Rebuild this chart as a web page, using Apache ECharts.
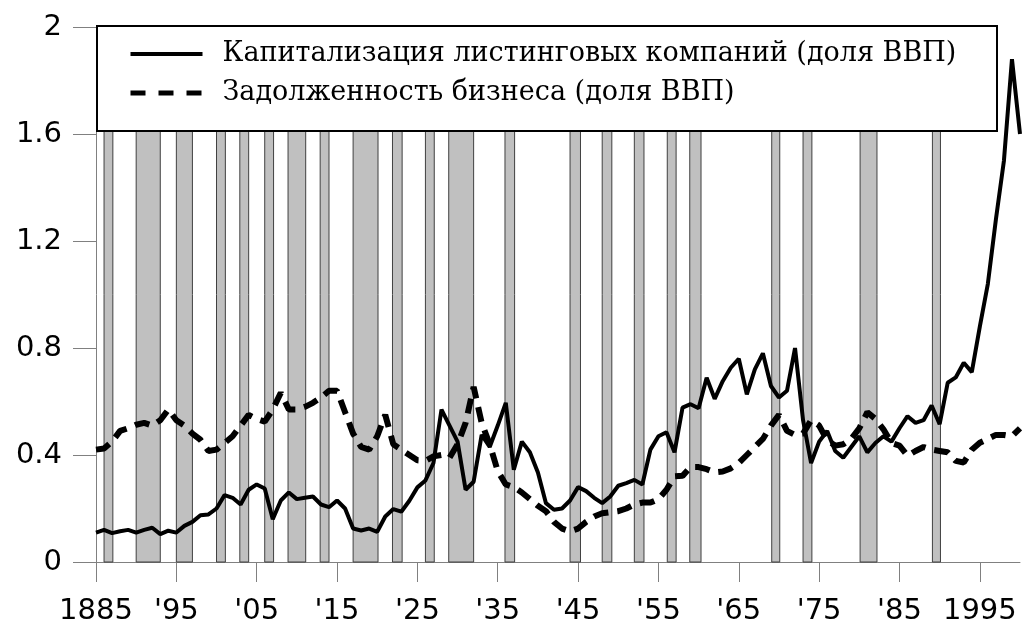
<!DOCTYPE html>
<html><head><meta charset="utf-8">
<script src="https://cdn.jsdelivr.net/npm/echarts@6/dist/echarts.min.js"></script>
<style>html,body{margin:0;padding:0;background:#fff}#c{width:1022px;height:626px}</style>
</head><body><div id="c"></div>
<script>
const firstYear = 1885;
// Market capitalization of listed companies (share of GDP), 1885..2000
const capitalization = [
  0.11, 0.12, 0.108, 0.115, 0.12, 0.11, 0.12, 0.128, 0.104, 0.117,
  0.11, 0.135, 0.15, 0.175, 0.178, 0.2, 0.25, 0.24, 0.215, 0.27,
  0.29, 0.275, 0.16, 0.23, 0.26, 0.235, 0.24, 0.245, 0.215, 0.205,
  0.23, 0.2, 0.125, 0.118, 0.125, 0.113, 0.17, 0.198, 0.188, 0.229,
  0.279, 0.305, 0.37, 0.57, 0.51, 0.45, 0.27, 0.30, 0.475, 0.43,
  0.51, 0.595, 0.345, 0.45, 0.41, 0.335, 0.22, 0.195, 0.2, 0.23,
  0.28, 0.265, 0.24, 0.22, 0.245, 0.285, 0.295, 0.307, 0.29, 0.42,
  0.47, 0.485, 0.41, 0.577, 0.59, 0.575, 0.689, 0.61, 0.676, 0.726,
  0.76, 0.627, 0.72, 0.78, 0.658, 0.615, 0.64, 0.8, 0.53, 0.37,
  0.45, 0.49, 0.415, 0.39, 0.43, 0.47, 0.41, 0.445, 0.47, 0.45,
  0.5, 0.545, 0.52, 0.53, 0.585, 0.515, 0.67, 0.69, 0.745, 0.71,
  0.88, 1.04, 1.28, 1.5, 1.88, 1.6
];
// Business debt (share of GDP), 1885..2000
const businessDebt = [
  0.42, 0.424, 0.45, 0.49, 0.50, 0.513, 0.52, 0.51, 0.53, 0.57,
  0.53, 0.51, 0.48, 0.457, 0.415, 0.42, 0.445, 0.47, 0.51, 0.55,
  0.535, 0.525, 0.57, 0.633, 0.57, 0.57, 0.58, 0.595, 0.615, 0.64,
  0.64, 0.56, 0.48, 0.43, 0.42, 0.47, 0.55, 0.44, 0.42, 0.40,
  0.38, 0.378, 0.395, 0.40, 0.39, 0.44, 0.52, 0.655, 0.52, 0.44,
  0.34, 0.29, 0.28, 0.26, 0.235, 0.21, 0.19, 0.15, 0.125, 0.115,
  0.125, 0.15, 0.17, 0.182, 0.186, 0.19, 0.2, 0.215, 0.222, 0.222,
  0.235, 0.27, 0.32, 0.322, 0.355, 0.355, 0.347, 0.335, 0.338, 0.35,
  0.37, 0.40, 0.43, 0.46, 0.51, 0.55, 0.49, 0.475, 0.48, 0.53,
  0.51, 0.455, 0.435, 0.44, 0.46, 0.5, 0.56, 0.535, 0.496, 0.445,
  0.435, 0.397, 0.415, 0.43, 0.42, 0.415, 0.41, 0.378, 0.372, 0.42,
  0.446, 0.46, 0.475, 0.475, 0.47, 0.50
];
// Recession periods (shaded bars)
const recessionStart = [1886.0, 1890.0, 1895.0, 1900.0, 1902.9, 1906.0, 1908.9, 1912.9, 1917.0, 1921.9, 1926.0,
  1928.9, 1935.9, 1944.0, 1948.0, 1952.0, 1956.1, 1958.9, 1969.1, 1973.0, 1980.1, 1989.1];
const recessionEnd = [1887.1, 1893.0, 1897.0, 1901.1, 1904.0, 1907.1, 1911.1, 1914.0, 1920.1, 1923.1, 1927.1,
  1932.0, 1937.1, 1945.3, 1949.2, 1953.2, 1957.2, 1960.3, 1970.1, 1974.1, 1982.2, 1990.1];
const tickYears = [1885, 1895, 1905, 1915, 1925, 1935, 1945, 1955, 1965, 1975, 1985, 1995];
const tickLabels = ['1885', "'95", "'05", "'15", "'25", "'35", "'45", "'55", "'65", "'75", "'85", '1995'];
const seriesNames = ['Капитализация листинговых компаний (доля ВВП)', 'Задолженность бизнеса (доля ВВП)'];

const years = capitalization.map((_, i) => firstYear + i);
const pairs = vals => vals.map((v, i) => [years[i], v]);

const chart = echarts.init(document.getElementById('c'), null, { renderer: 'canvas' });
chart.setOption({
  animation: false,
  backgroundColor: '#fff',
  grid: { left: 96, right: 2, top: 27, bottom: 63 },
  xAxis: {
    type: 'value', min: 1885, max: 2000,
    splitLine: { show: false },
    axisLine: { lineStyle: { color: '#808080', width: 1 } },
    axisTick: { show: true, length: 20, customValues: tickYears, lineStyle: { color: '#808080' } },
    axisLabel: {
      customValues: tickYears,
      formatter: v => tickLabels[tickYears.indexOf(Math.round(v))],
      fontFamily: 'DejaVu Sans', fontSize: 29, color: '#000', margin: 35
    }
  },
  yAxis: {
    type: 'value', min: 0, max: 2, interval: 0.4,
    splitLine: { show: false },
    axisLine: { show: true, lineStyle: { color: '#808080', width: 1 } },
    axisTick: { show: true, length: 23, lineStyle: { color: '#808080' } },
    axisLabel: { fontFamily: 'DejaVu Sans', fontSize: 29, color: '#000', margin: 34 }
  },
  graphic: [{
    type: 'rect', z: 10, silent: true,
    shape: { x: 97, y: 26, width: 900, height: 105 },
    style: { fill: '#fff', stroke: '#000', lineWidth: 2 }
  }],
  legend: {
    orient: 'vertical', left: 128, top: 35, padding: 0, z: 20,
    itemWidth: 72, itemHeight: 14, itemGap: 1,
    itemStyle: { opacity: 0 },
    textStyle: { fontFamily: 'DejaVu Serif', fontSize: 27, color: '#000', lineHeight: 20, padding: [18, 0, 0, 15] },
    data: [
      { name: seriesNames[0], itemStyle: { opacity: 0 }, lineStyle: { color: '#000', width: 4, type: 'solid' } },
      { name: seriesNames[1], itemStyle: { opacity: 0 }, lineStyle: { color: '#000', width: 5, type: [15, 13] } }
    ]
  },
  series: [
    {
      name: seriesNames[0], type: 'line', data: pairs(capitalization),
      symbol: 'none', showSymbol: false, z: 3,
      itemStyle: { color: '#000' },
      lineStyle: { color: '#000', width: 4 },
      markArea: {
        silent: true,
        itemStyle: { color: '#c0c0c0', borderColor: '#404040', borderWidth: 1 },
        data: recessionStart.map((s, i) => [{ xAxis: s }, { xAxis: recessionEnd[i] }])
      }
    },
    {
      name: seriesNames[1], type: 'line', data: pairs(businessDebt),
      symbol: 'none', showSymbol: false, z: 3,
      itemStyle: { color: '#000' },
      lineStyle: { color: '#000', width: 6, type: [15, 9] }
    }
  ]
});
</script></body></html>
